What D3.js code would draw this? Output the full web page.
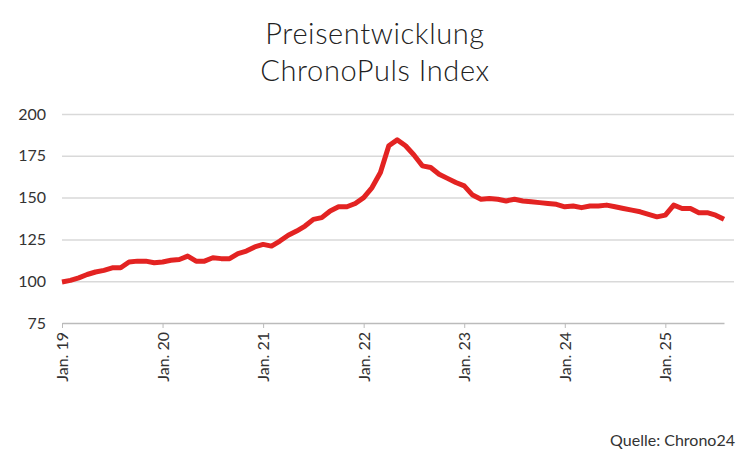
<!DOCTYPE html><html><head><meta charset="utf-8"><script src="https://cdn.jsdelivr.net/npm/d3@7"></script>
<style>body{margin:0;background:#fff}svg{font-family:Lato,"Noto Sans",sans-serif}</style></head><body><svg id="c" width="750" height="451"></svg>
<script>
const startYear = 2019;
const values = [
99.5,100.5,102,104,105.5,106.5,108,108,111.5,112,112,111,
111.5,112.5,113,115,112,112,114,113.5,113.5,116.5,118,120.5,
122,121,124,127.5,130,133,137,138,142,144.5,144.5,146.5,
150,156,165,181,184.5,181,175.5,169,168,164,161.5,159,
157,151.5,149,149.5,149,148,149,148,147.5,147,146.5,146,
144.5,145,144,145,145,145.5,144.5,143.5,142.5,141.5,140,138.5,
139.5,145.5,143.5,143.5,141,141,139.5,137];
const yTicks = [75,100,125,150,175,200];
const xTickLabels = ["Jan. 19","Jan. 20","Jan. 21","Jan. 22","Jan. 23","Jan. 24","Jan. 25"];
const title = ["Preisentwicklung","ChronoPuls Index"];
const source = "Quelle: Chrono24";

const svg = d3.select("#c");
const x = d3.scaleLinear().domain([0,79]).range([62,724]);
const y = d3.scaleLinear().domain([75,200]).range([323,114]);
svg.selectAll(".t").data(title).join("text").attr("x",375).attr("y",(d,i)=>44+i*37)
 .attr("text-anchor","middle").attr("font-size",29).attr("font-weight",300).attr("letter-spacing",0.6).attr("fill","#222").text(d=>d);
const ya = svg.append("g").attr("transform","translate(62,0)").call(d3.axisLeft(y).tickValues(yTicks).tickSize(-672).tickPadding(16));
ya.select(".domain").remove();
ya.selectAll("line").attr("stroke","#d9d9d9").attr("stroke-width",1.5);
ya.selectAll(".tick").filter(d=>d===75).select("line").remove();
ya.selectAll("text").attr("font-size",16).attr("fill","#333").attr("font-family","Lato");
const xa = svg.append("g").attr("transform","translate(0,323)").call(d3.axisBottom(x).tickValues(xTickLabels.map((d,i)=>i*12)).tickFormat((d,i)=>xTickLabels[i]).tickSize(5).tickSizeOuter(0));
xa.select(".domain").attr("stroke","#bbb").attr("stroke-width",1.5);
xa.selectAll("line").attr("stroke","#bbb");
xa.selectAll("text").attr("font-size",16).attr("fill","#333").attr("font-family","Lato")
 .attr("transform","rotate(-90)").attr("text-anchor","end").attr("dy","0.35em").attr("x",-9).attr("y",0);
svg.append("path").datum(values).attr("fill","none").attr("stroke","#e32322").attr("stroke-width",5)
 .attr("stroke-linejoin","round").attr("d",d3.line().x((d,i)=>x(i)).y(d=>y(d)));
svg.append("text").attr("x",735).attr("y",446).attr("text-anchor","end").attr("font-size",16).attr("fill","#333").text(source);
</script></body></html>
